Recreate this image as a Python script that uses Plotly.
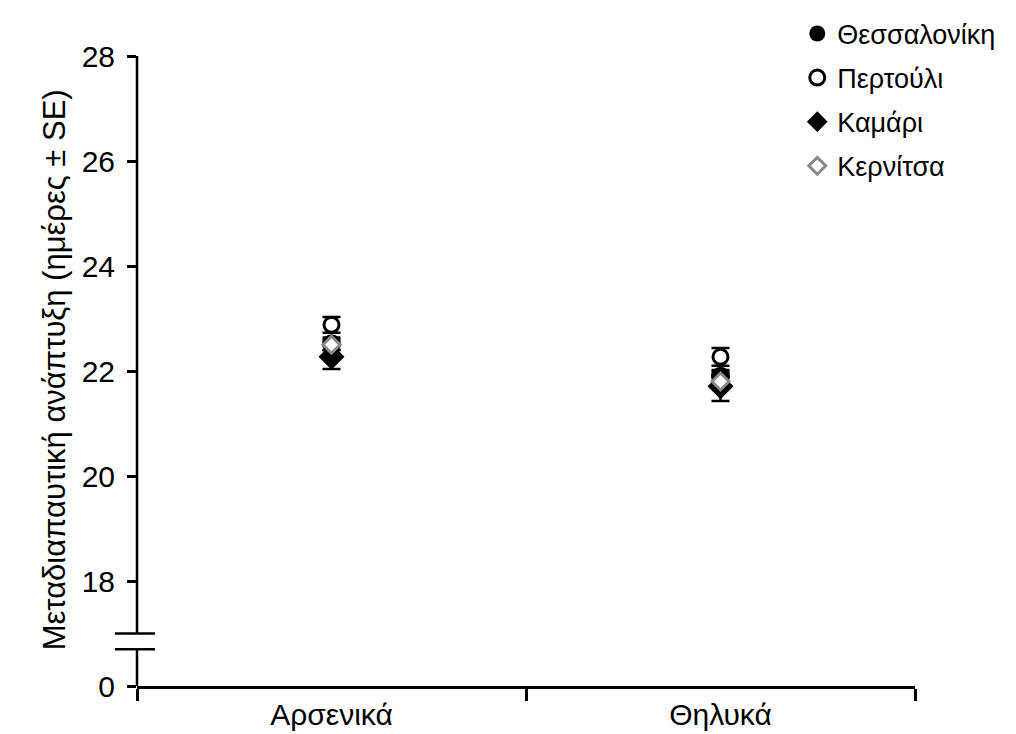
import plotly.graph_objects as go

categories = ["Αρσενικά", "Θηλυκά"]

series_names = ["Θεσσαλονίκη", "Περτούλι", "Καμάρι", "Κερνίτσα"]
thessaloniki = [22.52, 21.90]
thessaloniki_se = [0.12, 0.12]
pertouli = [22.88, 22.27]
pertouli_se = [0.15, 0.17]
kamari = [22.27, 21.71]
kamari_se = [0.23, 0.28]
kernitsa = [22.50, 21.80]
kernitsa_se = [0.10, 0.10]

# y axis is broken: real value 0 is drawn at position 16
y_tickvals = [16, 18, 20, 22, 24, 26, 28]
y_ticktext = ["0", "18", "20", "22", "24", "26", "28"]

FONT = "Liberation Sans, Arial, sans-serif"

styles = [
    dict(symbol="circle", size=19, color="black", line=dict(color="black", width=0)),
    dict(symbol="circle", size=15, color="white", line=dict(color="black", width=3)),
    dict(symbol="diamond", size=20, color="black", line=dict(color="black", width=0)),
    dict(symbol="diamond", size=13, color="white", line=dict(color="#8a8a8a", width=3)),
]
values = [thessaloniki, pertouli, kamari, kernitsa]
ses = [thessaloniki_se, pertouli_se, kamari_se, kernitsa_se]

fig = go.Figure()
for i, (name, vals, se, st) in enumerate(zip(series_names, values, ses, styles)):
    fig.add_trace(go.Scatter(
        x=categories, y=vals, name=name, mode="markers",
        marker=st, legendgroup=f"g{i}",
        error_y=dict(type="data", array=se, visible=True, color="black",
                     thickness=2.5, width=9),
    ))

# axis line with break
fig.add_shape(type="line", xref="paper", yref="y", x0=0, x1=0, y0=17.0, y1=28,
              line=dict(color="black", width=2.5))
fig.add_shape(type="line", xref="paper", yref="y", x0=0, x1=0, y0=16, y1=16.7,
              line=dict(color="black", width=2.5))
for yb in (17.0, 16.7):
    fig.add_shape(type="line", xref="paper", yref="y", x0=-0.0283, x1=0.0231,
                  y0=yb, y1=yb, line=dict(color="black", width=2.5))

fig.add_annotation(text="Μεταδιαπαυτική ανάπτυξη (ημέρες ± SE)", textangle=-90,
                   xref="paper", yref="paper", x=-0.131, y=0.502,
                   showarrow=False, font=dict(size=31, color="black", family=FONT))

fig.update_layout(
    width=1008, height=726,
    margin=dict(l=129, r=101, t=48, b=48, autoexpand=False),
    paper_bgcolor="white", plot_bgcolor="white",
    font=dict(family=FONT, color="black"),
    showlegend=True,
    legend=dict(xref="container", yref="container", x=0.783, y=0.998,
                xanchor="left", yanchor="top",
                font=dict(size=27, family=FONT), tracegroupgap=6,
                bgcolor="rgba(0,0,0,0)", itemwidth=30),
    xaxis=dict(type="category", range=[-0.5, 1.5], tickson="boundaries",
               showline=True, linecolor="black", linewidth=2.5,
               ticks="outside", ticklen=12, tickwidth=2.5, tickcolor="black",
               tickfont=dict(size=30), showgrid=False, zeroline=False,
               automargin=False),
    yaxis=dict(range=[16, 28], tickvals=y_tickvals, ticktext=y_ticktext,
               showline=False, ticks="outside", ticklen=9, tickwidth=2.5,
               tickcolor="black", tickfont=dict(size=30), ticklabelstandoff=6,
               showgrid=False, zeroline=False, automargin=False),
)

fig.write_html("out.html")
